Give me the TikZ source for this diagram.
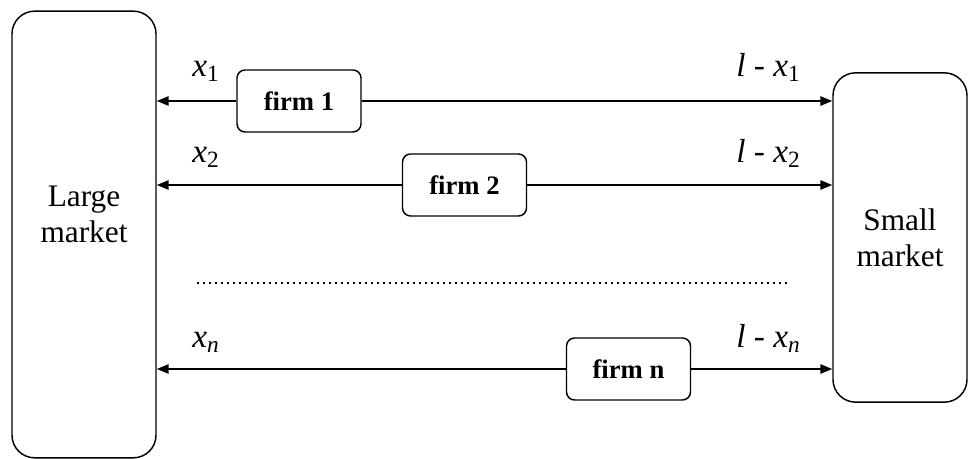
\documentclass[tikz,border=0pt]{standalone}
\usepackage{fontspec}
\setmainfont{Liberation Serif}
\usetikzlibrary{arrows.meta}
\tikzset{
  market/.style={draw, rounded corners=17pt, line width=1.1pt, inner sep=0pt, align=center, font=\fontsize{23.5}{27}\selectfont},
  firm/.style={draw, rounded corners=6pt, line width=1.1pt, inner sep=0pt, minimum width=93pt, minimum height=46.5pt, font=\fontsize{20}{22}\selectfont\bfseries},
  mtext/.style={align=center, font=\fontsize{23.5}{27}\selectfont},
  flow/.style={line width=1.4pt, -{Triangle[length=9pt,width=7pt]}},
  lab/.style={anchor=base west, inner sep=0pt, font=\fontsize{25}{29}\selectfont},
  gap/.style={line width=1.4pt, dash pattern=on 1.2pt off 3.3pt},
}

\begin{document}
\begin{tikzpicture}[x=0.75pt, y=-0.75pt]
  \useasboundingbox (0,0) rectangle (968,459);

  % the two markets
  \node[market, minimum width=108pt, minimum height=335pt] (large) at (84,234.5) {};
  \node[mtext] (largetxt) at (84,214) {Large\\market};
  \node[market, minimum width=100.5pt, minimum height=247pt] (small) at (900,237.5) {Small\\market};

  % firms
  \node[firm] (f1) at (299,101) {firm 1};
  \node[firm] (f2) at (464.5,185) {firm 2};
  \node[firm] (fn) at (628.5,369) {firm n};

  % sales to each market
  \draw[flow] (f1.west) -- (f1.west -| large.east);
  \draw[flow] (f1.east) -- (f1.east -| small.west);
  \draw[flow] (f2.west) -- (f2.west -| large.east);
  \draw[flow] (f2.east) -- (f2.east -| small.west);
  \draw[flow] (fn.west) -- (fn.west -| large.east);
  \draw[flow] (fn.east) -- (fn.east -| small.west);

  \node[lab] (x1) at (192,77) {\textit{x}\textsubscript{1}};
  \node[lab] (x2) at (192,163) {\textit{x}\textsubscript{2}};
  \node[lab] (xn) at (192,348) {\textit{x}\textsubscript{\textit{n}}};
  \node[lab] (r1) at (736,77) {\textit{l} - \textit{x}\textsubscript{1}};
  \node[lab] (r2) at (736,163) {\textit{l} - \textit{x}\textsubscript{2}};
  \node[lab] (rn) at (736,348) {\textit{l} - \textit{x}\textsubscript{\textit{n}}};

  % the firms in between
  \coordinate (dl) at (197,283);
  \coordinate (dr) at (788,283);
  \draw[gap] (dl) -- (dr);
\end{tikzpicture}
\end{document}
